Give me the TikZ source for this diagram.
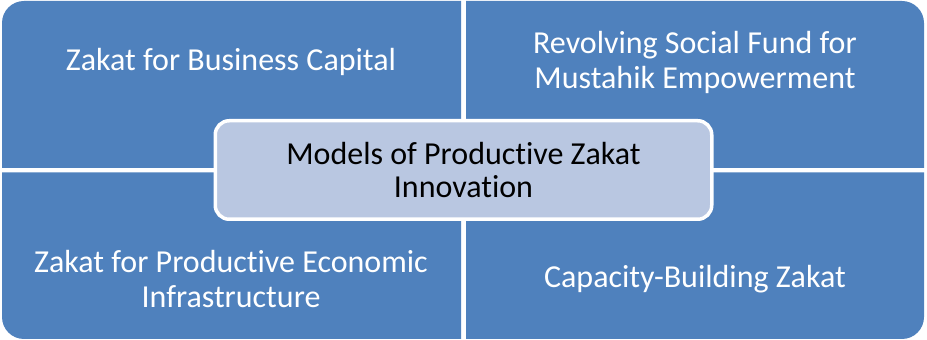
\documentclass[tikz,border=0pt]{standalone}
\usepackage{fontspec}
\setmainfont{Carlito}[Ligatures=NoCommon]
\usetikzlibrary{positioning}
\definecolor{quad colour}{RGB}{79,129,189}
\definecolor{hub colour}{RGB}{185,199,225}
\tikzset{
    % Quadrant fills and the labels that sit on them
    quad fill/.style={fill=quad colour},
    quad label/.style={text=white, font=\fontsize{32}{35}\selectfont},
    % Centre box laid over the four quadrants
    hub/.style={draw=white, line width=3.5pt, fill=hub colour, rounded corners=14pt,
        minimum width=496.5pt, minimum height=98.5pt, text=black,
        font=\fontsize{32}{33}\selectfont},
    every node/.style={align=center},
}

\begin{document}
\begin{tikzpicture}[x=1pt, y=1pt]

\useasboundingbox (0,0) rectangle (927,340);

% Four quadrants, each rounded only on its outer corner
\path [quad fill] (461,172) -- (2,172) -- (2,317)
    arc [start angle=180, end angle=90, radius=22] -- (461,339) -- cycle;
\path [quad fill] (466,172) -- (466,339) -- (902,339)
    arc [start angle=90, end angle=0, radius=22] -- (924,172) -- cycle;
\path [quad fill] (461,167.5) -- (461,1) -- (24,1)
    arc [start angle=270, end angle=180, radius=22] -- (2,167.5) -- cycle;
\path [quad fill] (466,167.5) -- (924,167.5) -- (924,23)
    arc [start angle=0, end angle=-90, radius=22] -- (466,1) -- cycle;

\path
    (231,278) node (business capital) [quad label] {Zakat for Business Capital}
    (695,278) node (social fund) [quad label] {Revolving Social Fund for\\Mustahik Empowerment}
    (231,61) node (infrastructure) [quad label] {Zakat for Productive Economic\\Infrastructure}
    (695,61) node (capacity) [quad label] {Capacity-Building Zakat};

\node (models) [hub] at (463.5,170) {Models of Productive Zakat\\Innovation};

\end{tikzpicture}
\end{document}
